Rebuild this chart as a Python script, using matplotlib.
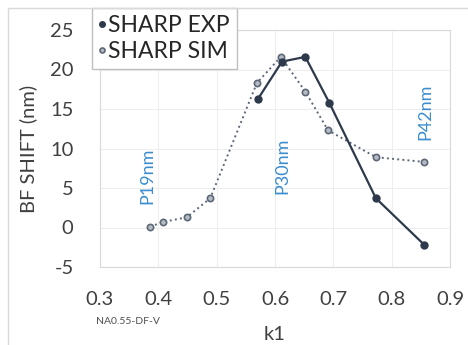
import numpy as np
import matplotlib
matplotlib.use("Agg")
import matplotlib.pyplot as plt
from matplotlib.patches import Rectangle

plt.rcParams['font.family'] = ['Lato', 'DejaVu Sans']
plt.rcParams['axes.unicode_minus'] = False

# k1 values and BF shift (nm)
k1_exp = [0.571, 0.612, 0.652, 0.693, 0.773, 0.856]
shift_exp = [16.3, 21.0, 21.6, 15.8, 3.7, -2.2]

k1_sim = [0.386, 0.408, 0.449, 0.489, 0.569, 0.610, 0.652, 0.691, 0.773, 0.856]
shift_sim = [0.1, 0.7, 1.3, 3.7, 18.3, 21.6, 17.2, 12.3, 8.9, 8.3]

pitch_labels = ["P19nm", "P30nm", "P42nm"]
pitch_x = [0.382, 0.612, 0.857]
pitch_y = [6.5, 7.8, 14.6]

W, H = 468, 345
fig = plt.figure(figsize=(W / 100, H / 100), dpi=100)
ax = fig.add_axes([100 / W, 1 - 267 / H, 350 / W, 237 / H])

# outer chart border (only left/top visible)
fig.patches.append(Rectangle((8 / W, -0.1), 1.2, 1 - 8 / H + 0.1,
                             transform=fig.transFigure, fill=False,
                             edgecolor='#d9d9d9', linewidth=1.0))

dark = '#2e3a4c'
sim_edge = '#5d6877'
sim_face = '#b4bbc4'
blue = '#3a8dd0'

ax.plot(k1_exp, shift_exp, '-o', color=dark, linewidth=1.6,
        markersize=5, zorder=4, label='SHARP EXP')
ax.plot(k1_sim, shift_sim, ':o', color=sim_edge, linewidth=1.4,
        markersize=4.5, markerfacecolor=sim_face, markeredgecolor=sim_edge,
        markeredgewidth=1.2, zorder=3, label='SHARP SIM')

for lbl, x, y in zip(pitch_labels, pitch_x, pitch_y):
    ax.text(x, y, lbl, rotation=90, ha='center', va='center',
            color=blue, fontsize=13)

ax.set_xlim(0.3, 0.9)
ax.set_ylim(-5, 25)
ax.set_xticks(np.arange(0.3, 0.91, 0.1))
ax.set_yticks(np.arange(-5, 26, 5))
ax.set_xticklabels([f"{v:.1f}" for v in np.arange(0.3, 0.91, 0.1)])
ax.grid(color='#eeeeee', linewidth=0.8)
ax.set_axisbelow(True)
ax.tick_params(axis='y', length=0, labelsize=14.5, labelcolor='#404040', pad=19)
ax.tick_params(axis='x', length=0, labelsize=14.5, labelcolor='#404040', pad=17)
for s in ax.spines.values():
    s.set_color('#d9d9d9')

ax.set_xlabel('k1', fontsize=14.5, color='#404040', labelpad=13)
ax.set_ylabel('BF SHIFT (nm)', fontsize=14.5, color='#404040', labelpad=9)

fig.text(128 / W, 1 - 322 / H, 'NA0.55-DF-V', fontsize=7.5, color='#505050',
         ha='center', va='center')

leg = ax.legend(loc='upper left', bbox_to_anchor=(92 / W, 1 - 8 / H),
                bbox_transform=fig.transFigure, fontsize=16.5,
                handlelength=0.3, handletextpad=0.1, borderpad=0.3,
                labelspacing=0.22, fancybox=False, framealpha=1,
                edgecolor='#bfbfbf', markerscale=0.8, borderaxespad=0)
for h in leg.legend_handles:
    h.set_linestyle('none')
for t in leg.get_texts():
    t.set_color('#262626')

fig.savefig('out.png', dpi=100)
